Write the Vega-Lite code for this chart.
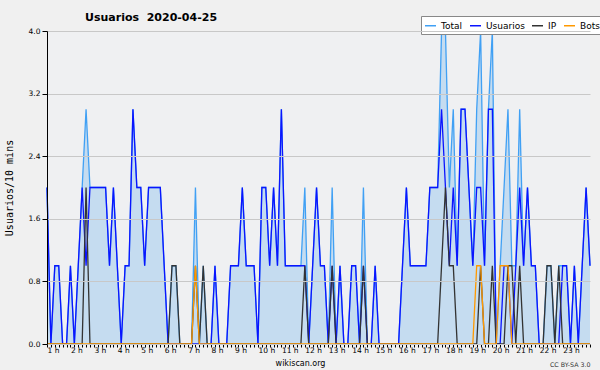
{
 "$schema": "https://vega.github.io/schema/vega-lite/v6.json",
 "width": 543,
 "height": 313,
 "autosize": {"type": "none"},
 "padding": {"left": 47, "top": 31, "right": 10, "bottom": 26},
 "background": "#f0f0f0",
 "config": {
  "view": {"fill": "#eff0f2", "stroke": null},
  "font": "DejaVu Sans"
 },
 "title": {"text": "Usuarios\u00a0 2020-04-25", "anchor": "start", "frame": "group", "dx": 38, "offset": -16, "baseline": "alphabetic", "fontSize": 11, "fontWeight": "bold", "font": "DejaVu Sans", "color": "#000000"},
 "data": {"values": [
  {"t":60,"Total":2,"Usuarios":2,"IP":0,"Bots":0},
  {"t":70,"Total":0,"Usuarios":0,"IP":0,"Bots":0},
  {"t":80,"Total":1,"Usuarios":1,"IP":0,"Bots":0},
  {"t":90,"Total":1,"Usuarios":1,"IP":0,"Bots":0},
  {"t":100,"Total":0,"Usuarios":0,"IP":0,"Bots":0},
  {"t":110,"Total":0,"Usuarios":0,"IP":0,"Bots":0},
  {"t":120,"Total":1,"Usuarios":1,"IP":0,"Bots":0},
  {"t":130,"Total":0,"Usuarios":0,"IP":0,"Bots":0},
  {"t":140,"Total":1,"Usuarios":1,"IP":0,"Bots":0},
  {"t":150,"Total":2,"Usuarios":2,"IP":0,"Bots":0},
  {"t":160,"Total":3,"Usuarios":1,"IP":2,"Bots":0},
  {"t":170,"Total":2,"Usuarios":2,"IP":0,"Bots":0},
  {"t":180,"Total":2,"Usuarios":2,"IP":0,"Bots":0},
  {"t":190,"Total":2,"Usuarios":2,"IP":0,"Bots":0},
  {"t":200,"Total":2,"Usuarios":2,"IP":0,"Bots":0},
  {"t":210,"Total":2,"Usuarios":2,"IP":0,"Bots":0},
  {"t":220,"Total":1,"Usuarios":1,"IP":0,"Bots":0},
  {"t":230,"Total":2,"Usuarios":2,"IP":0,"Bots":0},
  {"t":240,"Total":1,"Usuarios":1,"IP":0,"Bots":0},
  {"t":250,"Total":0,"Usuarios":0,"IP":0,"Bots":0},
  {"t":260,"Total":1,"Usuarios":1,"IP":0,"Bots":0},
  {"t":270,"Total":1,"Usuarios":1,"IP":0,"Bots":0},
  {"t":280,"Total":3,"Usuarios":3,"IP":0,"Bots":0},
  {"t":290,"Total":2,"Usuarios":2,"IP":0,"Bots":0},
  {"t":300,"Total":2,"Usuarios":2,"IP":0,"Bots":0},
  {"t":310,"Total":1,"Usuarios":1,"IP":0,"Bots":0},
  {"t":320,"Total":2,"Usuarios":2,"IP":0,"Bots":0},
  {"t":330,"Total":2,"Usuarios":2,"IP":0,"Bots":0},
  {"t":340,"Total":2,"Usuarios":2,"IP":0,"Bots":0},
  {"t":350,"Total":2,"Usuarios":2,"IP":0,"Bots":0},
  {"t":360,"Total":1,"Usuarios":1,"IP":0,"Bots":0},
  {"t":370,"Total":0,"Usuarios":0,"IP":0,"Bots":0},
  {"t":380,"Total":1,"Usuarios":0,"IP":1,"Bots":0},
  {"t":390,"Total":1,"Usuarios":0,"IP":1,"Bots":0},
  {"t":400,"Total":0,"Usuarios":0,"IP":0,"Bots":0},
  {"t":410,"Total":0,"Usuarios":0,"IP":0,"Bots":0},
  {"t":420,"Total":0,"Usuarios":0,"IP":0,"Bots":0},
  {"t":430,"Total":0,"Usuarios":0,"IP":0,"Bots":0},
  {"t":440,"Total":2,"Usuarios":0,"IP":1,"Bots":1},
  {"t":450,"Total":0,"Usuarios":0,"IP":0,"Bots":0},
  {"t":460,"Total":1,"Usuarios":0,"IP":1,"Bots":0},
  {"t":470,"Total":0,"Usuarios":0,"IP":0,"Bots":0},
  {"t":480,"Total":0,"Usuarios":0,"IP":0,"Bots":0},
  {"t":490,"Total":1,"Usuarios":1,"IP":0,"Bots":0},
  {"t":500,"Total":0,"Usuarios":0,"IP":0,"Bots":0},
  {"t":510,"Total":0,"Usuarios":0,"IP":0,"Bots":0},
  {"t":520,"Total":0,"Usuarios":0,"IP":0,"Bots":0},
  {"t":530,"Total":1,"Usuarios":1,"IP":0,"Bots":0},
  {"t":540,"Total":1,"Usuarios":1,"IP":0,"Bots":0},
  {"t":550,"Total":1,"Usuarios":1,"IP":0,"Bots":0},
  {"t":560,"Total":2,"Usuarios":2,"IP":0,"Bots":0},
  {"t":570,"Total":1,"Usuarios":1,"IP":0,"Bots":0},
  {"t":580,"Total":1,"Usuarios":1,"IP":0,"Bots":0},
  {"t":590,"Total":1,"Usuarios":1,"IP":0,"Bots":0},
  {"t":600,"Total":0,"Usuarios":0,"IP":0,"Bots":0},
  {"t":610,"Total":2,"Usuarios":2,"IP":0,"Bots":0},
  {"t":620,"Total":2,"Usuarios":2,"IP":0,"Bots":0},
  {"t":630,"Total":1,"Usuarios":1,"IP":0,"Bots":0},
  {"t":640,"Total":2,"Usuarios":2,"IP":0,"Bots":0},
  {"t":650,"Total":1,"Usuarios":1,"IP":0,"Bots":0},
  {"t":660,"Total":3,"Usuarios":3,"IP":0,"Bots":0},
  {"t":670,"Total":1,"Usuarios":1,"IP":0,"Bots":0},
  {"t":680,"Total":1,"Usuarios":1,"IP":0,"Bots":0},
  {"t":690,"Total":1,"Usuarios":1,"IP":0,"Bots":0},
  {"t":700,"Total":1,"Usuarios":1,"IP":0,"Bots":0},
  {"t":710,"Total":1,"Usuarios":1,"IP":0,"Bots":0},
  {"t":720,"Total":2,"Usuarios":1,"IP":1,"Bots":0},
  {"t":730,"Total":0,"Usuarios":0,"IP":0,"Bots":0},
  {"t":740,"Total":1,"Usuarios":1,"IP":0,"Bots":0},
  {"t":750,"Total":2,"Usuarios":2,"IP":0,"Bots":0},
  {"t":760,"Total":1,"Usuarios":1,"IP":0,"Bots":0},
  {"t":770,"Total":1,"Usuarios":1,"IP":0,"Bots":0},
  {"t":780,"Total":0,"Usuarios":0,"IP":0,"Bots":0},
  {"t":790,"Total":2,"Usuarios":1,"IP":1,"Bots":0},
  {"t":800,"Total":0,"Usuarios":0,"IP":0,"Bots":0},
  {"t":810,"Total":1,"Usuarios":1,"IP":0,"Bots":0},
  {"t":820,"Total":0,"Usuarios":0,"IP":0,"Bots":0},
  {"t":830,"Total":0,"Usuarios":0,"IP":0,"Bots":0},
  {"t":840,"Total":1,"Usuarios":1,"IP":0,"Bots":0},
  {"t":850,"Total":1,"Usuarios":1,"IP":0,"Bots":0},
  {"t":860,"Total":0,"Usuarios":0,"IP":0,"Bots":0},
  {"t":870,"Total":2,"Usuarios":1,"IP":1,"Bots":0},
  {"t":880,"Total":0,"Usuarios":0,"IP":0,"Bots":0},
  {"t":890,"Total":0,"Usuarios":0,"IP":0,"Bots":0},
  {"t":900,"Total":1,"Usuarios":1,"IP":0,"Bots":0},
  {"t":910,"Total":0,"Usuarios":0,"IP":0,"Bots":0},
  {"t":920,"Total":0,"Usuarios":0,"IP":0,"Bots":0},
  {"t":930,"Total":0,"Usuarios":0,"IP":0,"Bots":0},
  {"t":940,"Total":0,"Usuarios":0,"IP":0,"Bots":0},
  {"t":950,"Total":0,"Usuarios":0,"IP":0,"Bots":0},
  {"t":960,"Total":0,"Usuarios":0,"IP":0,"Bots":0},
  {"t":970,"Total":1,"Usuarios":1,"IP":0,"Bots":0},
  {"t":980,"Total":2,"Usuarios":2,"IP":0,"Bots":0},
  {"t":990,"Total":1,"Usuarios":1,"IP":0,"Bots":0},
  {"t":1000,"Total":1,"Usuarios":1,"IP":0,"Bots":0},
  {"t":1010,"Total":1,"Usuarios":1,"IP":0,"Bots":0},
  {"t":1020,"Total":1,"Usuarios":1,"IP":0,"Bots":0},
  {"t":1030,"Total":1,"Usuarios":1,"IP":0,"Bots":0},
  {"t":1040,"Total":2,"Usuarios":2,"IP":0,"Bots":0},
  {"t":1050,"Total":2,"Usuarios":2,"IP":0,"Bots":0},
  {"t":1060,"Total":2,"Usuarios":2,"IP":0,"Bots":0},
  {"t":1070,"Total":4,"Usuarios":3,"IP":1,"Bots":0},
  {"t":1080,"Total":4,"Usuarios":2,"IP":2,"Bots":0},
  {"t":1090,"Total":2,"Usuarios":1,"IP":1,"Bots":0},
  {"t":1100,"Total":3,"Usuarios":2,"IP":1,"Bots":0},
  {"t":1110,"Total":1,"Usuarios":1,"IP":0,"Bots":0},
  {"t":1120,"Total":3,"Usuarios":3,"IP":0,"Bots":0},
  {"t":1130,"Total":3,"Usuarios":3,"IP":0,"Bots":0},
  {"t":1140,"Total":2,"Usuarios":2,"IP":0,"Bots":0},
  {"t":1150,"Total":1,"Usuarios":1,"IP":0,"Bots":0},
  {"t":1160,"Total":3,"Usuarios":2,"IP":0,"Bots":1},
  {"t":1170,"Total":4,"Usuarios":2,"IP":1,"Bots":1},
  {"t":1180,"Total":1,"Usuarios":1,"IP":0,"Bots":0},
  {"t":1190,"Total":3,"Usuarios":3,"IP":0,"Bots":0},
  {"t":1200,"Total":4,"Usuarios":3,"IP":1,"Bots":0},
  {"t":1210,"Total":0,"Usuarios":0,"IP":0,"Bots":0},
  {"t":1220,"Total":1,"Usuarios":0,"IP":0,"Bots":1},
  {"t":1230,"Total":2,"Usuarios":1,"IP":0,"Bots":1},
  {"t":1240,"Total":3,"Usuarios":1,"IP":1,"Bots":1},
  {"t":1250,"Total":1,"Usuarios":0,"IP":1,"Bots":0},
  {"t":1260,"Total":1,"Usuarios":1,"IP":0,"Bots":0},
  {"t":1270,"Total":3,"Usuarios":2,"IP":1,"Bots":0},
  {"t":1280,"Total":1,"Usuarios":1,"IP":0,"Bots":0},
  {"t":1290,"Total":2,"Usuarios":2,"IP":0,"Bots":0},
  {"t":1300,"Total":1,"Usuarios":1,"IP":0,"Bots":0},
  {"t":1310,"Total":1,"Usuarios":1,"IP":0,"Bots":0},
  {"t":1320,"Total":0,"Usuarios":0,"IP":0,"Bots":0},
  {"t":1330,"Total":0,"Usuarios":0,"IP":0,"Bots":0},
  {"t":1340,"Total":1,"Usuarios":0,"IP":1,"Bots":0},
  {"t":1350,"Total":1,"Usuarios":0,"IP":1,"Bots":0},
  {"t":1360,"Total":0,"Usuarios":0,"IP":0,"Bots":0},
  {"t":1370,"Total":1,"Usuarios":0,"IP":1,"Bots":0},
  {"t":1380,"Total":1,"Usuarios":1,"IP":0,"Bots":0},
  {"t":1390,"Total":1,"Usuarios":1,"IP":0,"Bots":0},
  {"t":1400,"Total":0,"Usuarios":0,"IP":0,"Bots":0},
  {"t":1410,"Total":1,"Usuarios":1,"IP":0,"Bots":0},
  {"t":1420,"Total":0,"Usuarios":0,"IP":0,"Bots":0},
  {"t":1430,"Total":1,"Usuarios":1,"IP":0,"Bots":0},
  {"t":1440,"Total":2,"Usuarios":2,"IP":0,"Bots":0},
  {"t":1450,"Total":1,"Usuarios":1,"IP":0,"Bots":0}
 ]},
 "layer": [
  {
   "mark": {"type": "area", "color": "#c5dcf0", "interpolate": "linear"},
   "encoding": {
    "x": {"field": "t", "type": "quantitative", "scale": {"domain": [60, 1450], "nice": false, "zero": false},
     "axis": {"orient": "bottom", "values": [60,70,80,90,100,110,120,130,140,150,160,170,180,190,200,210,220,230,240,250,260,270,280,290,300,310,320,330,340,350,360,370,380,390,400,410,420,430,440,450,460,470,480,490,500,510,520,530,540,550,560,570,580,590,600,610,620,630,640,650,660,670,680,690,700,710,720,730,740,750,760,770,780,790,800,810,820,830,840,850,860,870,880,890,900,910,920,930,940,950,960,970,980,990,1000,1010,1020,1030,1040,1050,1060,1070,1080,1090,1100,1110,1120,1130,1140,1150,1160,1170,1180,1190,1200,1210,1220,1230,1240,1250,1260,1270,1280,1290,1300,1310,1320,1330,1340,1350,1360,1370,1380,1390,1400,1410,1420,1430,1440,1450],
      "labelExpr": "datum.value % 60 == 0 && datum.value < 1440 ? (datum.value / 60) + ' h' : ''",
      "labelAlign": "left", "labelFontSize": 7.5, "labelPadding": -1, "labelOverlap": false, "labelBound": false, "labelFlush": false, "labelColor": "#000000",
      "tickSize": 3, "tickColor": "#000000", "domainColor": "#000000", "grid": false,
      "title": "wikiscan.org", "titleFontSize": 8, "titleFontWeight": "normal", "titleColor": "#000000",
      "titleX": 253, "titleY": 21, "titleAlign": "center", "titleBaseline": "alphabetic"}},
    "y": {"field": "Total", "type": "quantitative", "scale": {"domain": [0, 4], "nice": false}, "title": "Usuarios/10 mins",
     "axis": {"values": [0,0.2,0.4,0.6,0.8,1,1.2,1.4,1.6,1.8,2,2.2,2.4,2.6,2.8,3,3.2,3.4,3.6,3.8,4],
      "labelExpr": "round(datum.value * 10) % 8 == 0 ? format(datum.value, '.1f') : ''",
      "labelFontSize": 7.5, "labelPadding": 2, "labelOverlap": false, "labelBound": false, "labelFlush": false, "labelColor": "#000000",
      "grid": true, "gridColor": "#c8c8c8",
      "gridOpacity": {"condition": {"test": "round(datum.value * 10) % 8 == 0", "value": 1}, "value": 0},
      "tickSize": {"condition": {"test": "round(datum.value * 10) % 8 == 0", "value": 5}, "value": 3},
      "tickColor": "#000000", "domainColor": "#000000", "zindex": 1,
      "titleFont": "DejaVu Sans Mono", "titleFontSize": 10, "titleFontWeight": "normal", "titleColor": "#000000", "titlePadding": 14}}
   }
  },
  {
   "mark": {"type": "line", "strokeWidth": 1.3},
   "encoding": {
    "x": {"field": "t", "type": "quantitative", "axis": null},
    "y": {"field": "Total", "type": "quantitative", "title": "Usuarios/10 mins"},
    "color": {"datum": "Total", "type": "nominal",
     "scale": {"domain": ["Total", "Usuarios", "IP", "Bots"], "range": ["#40a0f4", "#0a14ff", "#333333", "#ff9900"]},
     "legend": {"orient": "none", "legendX": 374, "legendY": -15, "direction": "horizontal", "title": null,
      "symbolType": "stroke", "symbolSize": 121, "symbolStrokeWidth": 1.5, "labelFontSize": 9, "labelColor": "#000000",
      "labelOffset": 4, "columnPadding": 4, "padding": 3, "fillColor": "#ffffff", "strokeColor": "#888888"}}
   }
  },
  {
   "mark": {"type": "line", "strokeWidth": 1.3},
   "encoding": {
    "x": {"field": "t", "type": "quantitative", "axis": null},
    "y": {"field": "Usuarios", "type": "quantitative", "title": "Usuarios/10 mins"},
    "color": {"datum": "Usuarios", "type": "nominal"}
   }
  },
  {
   "mark": {"type": "line", "strokeWidth": 1.3},
   "encoding": {
    "x": {"field": "t", "type": "quantitative", "axis": null},
    "y": {"field": "IP", "type": "quantitative", "title": "Usuarios/10 mins"},
    "color": {"datum": "IP", "type": "nominal"}
   }
  },
  {
   "mark": {"type": "line", "strokeWidth": 1.3},
   "encoding": {
    "x": {"field": "t", "type": "quantitative",
     "axis": {"orient": "bottom", "title": "CC BY-SA 3.0", "labels": false, "ticks": false, "domain": false, "grid": false,
      "titleFontSize": 6.3, "titleFontWeight": "normal", "titleColor": "#333333",
      "titleX": 543, "titleY": 22, "titleAlign": "right", "titleBaseline": "alphabetic"}},
    "y": {"field": "Bots", "type": "quantitative", "title": "Usuarios/10 mins"},
    "color": {"datum": "Bots", "type": "nominal"}
   }
  }
 ],
 "resolve": {"axis": {"x": "independent"}}
}
